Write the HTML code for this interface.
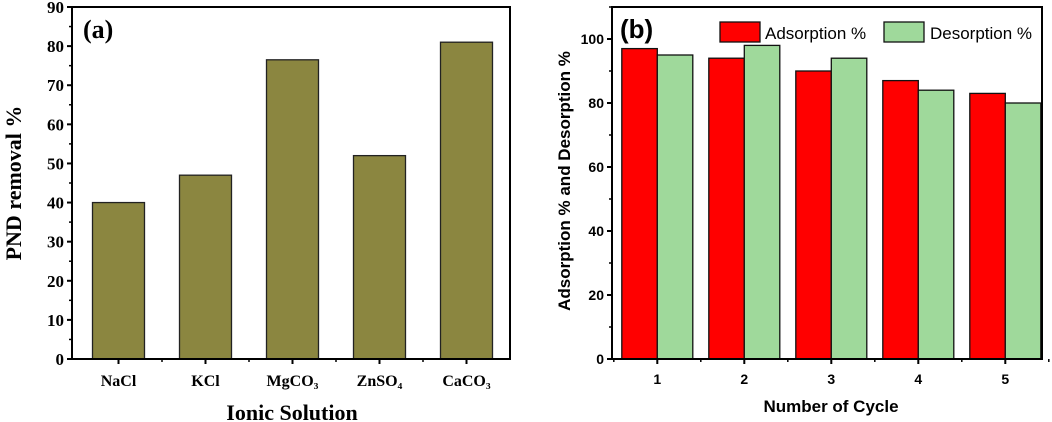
<!DOCTYPE html>
<html><head><meta charset="utf-8"><style>
body{margin:0;background:#fff;}
svg{display:block;}
</style></head><body>
<svg id="chart" width="1052" height="422" viewBox="0 0 1052 422" xmlns="http://www.w3.org/2000/svg">
<g id="pa"></g>
<g id="pb"></g>
</svg>
<script>
const aCategories=["NaCl","KCl","MgCO₃","ZnSO₄","CaCO₃"];
const aValues=[40,47,76.5,52,81];
const aTicks=[0,10,20,30,40,50,60,70,80,90];
const bCategories=["1","2","3","4","5"];
const bAdsorption=[97,94,90,87,83];
const bDesorption=[95,98,94,84,80];
const bTicks=[0,20,40,60,80,100];
const NS="http://www.w3.org/2000/svg";
function mk(p,t,a,txt){const e=document.createElementNS(NS,t);for(const k in a)e.setAttribute(k,a[k]);if(txt!==undefined)e.textContent=txt;p.appendChild(e);return e;}
// Panel A
const pa=document.getElementById('pa');
const aL=72,aR=510,aT=7,aB=359,aMax=90;
const ay=v=>aB-(v/aMax)*(aB-aT);
const ax=i=>118.5+i*87;
aValues.forEach((v,i)=>{const r=mk(pa,'rect',{x:ax(i)-26,y:ay(v),width:52,height:aB-ay(v),fill:'#8b8640',stroke:'#222','stroke-width':1.3});

});
mk(pa,'rect',{x:aL,y:aT,width:aR-aL,height:aB-aT,fill:'none',stroke:'#000','stroke-width':2});
aTicks.forEach(t=>{mk(pa,'line',{x1:aL-5,x2:aL,y1:ay(t),y2:ay(t),stroke:'#000','stroke-width':2});
if(t<90)mk(pa,'line',{x1:aL-3,x2:aL,y1:ay(t+5),y2:ay(t+5),stroke:'#000','stroke-width':1.5});
const l=mk(pa,'text',{x:aL-8,y:ay(t)+6,'text-anchor':'end','font-family':'Liberation Serif,serif','font-weight':'bold','font-size':17},t);

});
aCategories.forEach((c,i)=>{mk(pa,'line',{x1:ax(i),x2:ax(i),y1:aB,y2:aB+5,stroke:'#000','stroke-width':2});
if(i<4)mk(pa,'line',{x1:ax(i)+43.5,x2:ax(i)+43.5,y1:aB,y2:aB+3,stroke:'#000','stroke-width':1.5});
const l=mk(pa,'text',{x:ax(i),y:386,'text-anchor':'middle','font-family':'Liberation Serif,serif','font-weight':'bold','font-size':16},c);

});
let t=mk(pa,'text',{x:83,y:38,'font-family':'Liberation Serif,serif','font-weight':'bold','font-size':26},'(a)');

t=mk(pa,'text',{x:292,y:420,'text-anchor':'middle','font-family':'Liberation Serif,serif','font-weight':'bold','font-size':22},'Ionic Solution');

t=mk(pa,'text',{x:0,y:0,transform:'translate(21,183) rotate(-90)','text-anchor':'middle','font-family':'Liberation Serif,serif','font-weight':'bold','font-size':22},'PND removal %');

// Panel B
const pb=document.getElementById('pb');
const bL=612,bR=1042,bT=7,bB=359,bMax=110;
const by=v=>bB-(v/bMax)*(bB-bT);
const bx=i=>657.3+i*87;
const bw=35.5;
bCategories.forEach((c,i)=>{
let r=mk(pb,'rect',{x:bx(i)-bw,y:by(bAdsorption[i]),width:bw,height:bB-by(bAdsorption[i]),fill:'#ff0000',stroke:'#111','stroke-width':1.3});


r=mk(pb,'rect',{x:bx(i),y:by(bDesorption[i]),width:bw,height:bB-by(bDesorption[i]),fill:'#9fd99b',stroke:'#111','stroke-width':1.3});


mk(pb,'line',{x1:bx(i),x2:bx(i),y1:bB,y2:bB+5,stroke:'#000','stroke-width':2});
mk(pb,'line',{x1:bx(i)-43.5,x2:bx(i)-43.5,y1:bB,y2:bB+3,stroke:'#000','stroke-width':1.5});
const l=mk(pb,'text',{x:bx(i),y:384,'text-anchor':'middle','font-family':'Liberation Sans,sans-serif','font-weight':'bold','font-size':14},c);

});
mk(pb,'line',{x1:bx(4)+43.5,x2:bx(4)+43.5,y1:bB,y2:bB+3,stroke:'#000','stroke-width':1.5});
mk(pb,'rect',{x:bL,y:bT,width:bR-bL,height:bB-bT,fill:'none',stroke:'#000','stroke-width':2});
bTicks.forEach(v=>{mk(pb,'line',{x1:bL-5,x2:bL,y1:by(v),y2:by(v),stroke:'#000','stroke-width':2});
mk(pb,'line',{x1:bL-3,x2:bL,y1:by(v+10),y2:by(v+10),stroke:'#000','stroke-width':1.5});
const l=mk(pb,'text',{x:bL-8,y:by(v)+5,'text-anchor':'end','font-family':'Liberation Sans,sans-serif','font-weight':'bold','font-size':14},v);

});
t=mk(pb,'text',{x:620,y:38,'font-family':'Liberation Sans,sans-serif','font-weight':'bold','font-size':26},'(b)');

let g=mk(pb,'g',{});
mk(g,'rect',{x:720,y:22,width:40,height:20,fill:'#ff0000',stroke:'#111','stroke-width':1.3});
mk(g,'text',{x:765,y:39,'font-family':'Liberation Sans,sans-serif','font-size':17},'Adsorption %');
g=mk(pb,'g',{});
mk(g,'rect',{x:884,y:22,width:40,height:20,fill:'#9fd99b',stroke:'#111','stroke-width':1.3});
mk(g,'text',{x:930,y:39,'font-family':'Liberation Sans,sans-serif','font-size':17},'Desorption %');
t=mk(pb,'text',{x:831,y:412,'text-anchor':'middle','font-family':'Liberation Sans,sans-serif','font-weight':'bold','font-size':17},'Number of Cycle');

t=mk(pb,'text',{x:0,y:0,transform:'translate(570,181) rotate(-90)','text-anchor':'middle','font-family':'Liberation Sans,sans-serif','font-weight':'bold','font-size':17},'Adsorption % and Desorption %');

</script>
</body></html>
